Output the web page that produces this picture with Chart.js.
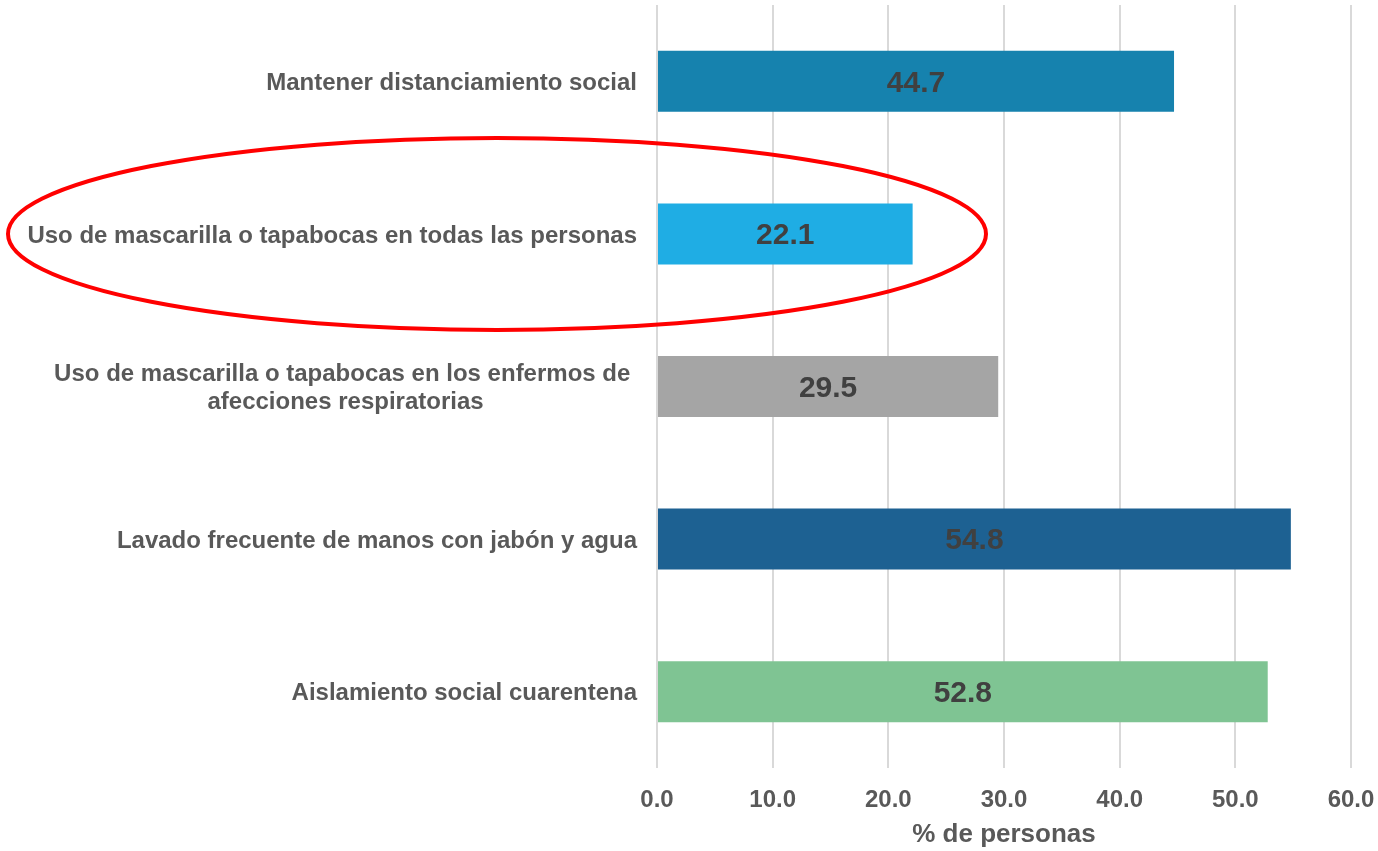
<!DOCTYPE html>
<html lang="es">
<head>
<meta charset="UTF-8">
<title>Medidas de prevención</title>
<script src="https://cdn.jsdelivr.net/npm/chart.js@4"></script>
<style>
  html, body { margin: 0; padding: 0; background: #fff; overflow: hidden; }
  #wrap { width: 1378px; height: 851px; position: relative; }
</style>
</head>
<body>
<div id="wrap"><canvas id="grafico"></canvas></div>
<script>
const categorias = [
  'Mantener distanciamiento social',
  'Uso de mascarilla o tapabocas en todas las personas',
  ['Uso de mascarilla o tapabocas en los enfermos de ', 'afecciones respiratorias'],
  'Lavado frecuente de manos con jabón y agua',
  'Aislamiento social cuarentena'
];
const valores = [44.7, 22.1, 29.5, 54.8, 52.8];
const colores = ['#1682AE', '#1FADE4', '#A5A5A5', '#1D6192', '#7FC493'];
const ticksX = [0, 10, 20, 30, 40, 50, 60];
const tituloX = '% de personas';

const FUENTE = '"Liberation Sans", Arial, sans-serif';

// etiquetas del eje Y (centradas por línea, alineadas a la derecha como en Excel)
const etiquetasY = {
  id: 'etiquetasY',
  afterDraw(chart) {
    const ctx = chart.ctx;
    const y = chart.scales.y;
    ctx.save();
    ctx.font = 'bold 24px ' + FUENTE;
    ctx.fillStyle = '#595959';
    ctx.textBaseline = 'middle';
    ctx.textAlign = 'center';
    categorias.forEach((lab, i) => {
      const lineas = Array.isArray(lab) ? lab : [lab];
      const ancho = Math.max(...lineas.map(l => ctx.measureText(l).width));
      const derecha = chart.chartArea.left - 20;
      const cx = derecha - ancho / 2;
      const cy = y.getPixelForValue(i) + 2;
      const alto = 28;
      lineas.forEach((l, j) => {
        ctx.fillText(l, cx, cy + (j - (lineas.length - 1) / 2) * alto);
      });
    });
    ctx.restore();
  }
};

// valores dentro de las barras
const valoresBarras = {
  id: 'valoresBarras',
  afterDatasetsDraw(chart) {
    const ctx = chart.ctx;
    const meta = chart.getDatasetMeta(0);
    ctx.save();
    ctx.font = 'bold 30px ' + FUENTE;
    ctx.fillStyle = '#404040';
    ctx.textAlign = 'center';
    ctx.textBaseline = 'middle';
    meta.data.forEach((bar, i) => {
      ctx.fillText(valores[i].toFixed(1), (bar.x + bar.base) / 2, bar.y + 2);
    });
    ctx.restore();
  }
};

// óvalo rojo resaltando la segunda categoría
const ovalo = {
  id: 'ovalo',
  afterDraw(chart) {
    const ctx = chart.ctx;
    const cy = chart.scales.y.getPixelForValue(1);
    ctx.save();
    ctx.strokeStyle = '#FF0000';
    ctx.lineWidth = 4;
    ctx.beginPath();
    ctx.ellipse(497, cy, 489, 96, 0, 0, Math.PI * 2);
    ctx.stroke();
    ctx.restore();
  }
};

new Chart(document.getElementById('grafico').getContext('2d'), {
  type: 'bar',
  data: {
    labels: categorias,
    datasets: [{
      data: valores,
      backgroundColor: colores,
      borderWidth: 0,
      barPercentage: 0.4,
      categoryPercentage: 1
    }]
  },
  options: {
    indexAxis: 'y',
    responsive: true,
    maintainAspectRatio: false,
    animation: false,
    layout: { padding: { top: 5, right: 0, left: 0, bottom: 1 } },
    plugins: {
      legend: { display: false },
      tooltip: { enabled: false }
    },
    scales: {
      x: {
        min: 0,
        max: 60,
        afterBuildTicks(s) { s.ticks = ticksX.map(v => ({ value: v })); },
        grid: { color: '#D9D9D9', lineWidth: 2, drawTicks: false },
        border: { display: false },
        ticks: {
          padding: 18,
          color: '#595959',
          font: { family: FUENTE, size: 24, weight: 'bold' },
          callback: v => v.toFixed(1)
        },
        title: {
          display: true,
          text: tituloX,
          color: '#595959',
          font: { family: FUENTE, size: 26, weight: 'bold' },
          padding: { top: 4, bottom: 0 }
        },
        afterFit(s) {
          s.height = 82;
          s.paddingLeft = 0;
          s.paddingRight = 27;
        }
      },
      y: {
        grid: { display: false },
        border: { display: false },
        ticks: { display: false },
        afterFit(s) { s.width = 657; }
      }
    }
  },
  plugins: [etiquetasY, valoresBarras, ovalo]
});
</script>
</body>
</html>
